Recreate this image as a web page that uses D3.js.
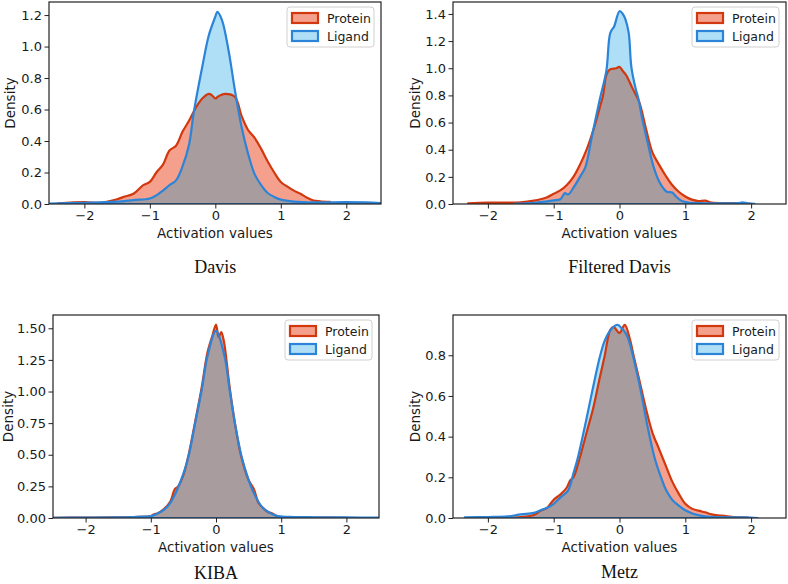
<!DOCTYPE html>
<html>
<head>
<meta charset="utf-8">
<script src="https://cdn.jsdelivr.net/npm/d3@7/dist/d3.min.js"></script>
<style>
  body { margin: 0; background: #fff; }
  svg { display: block; }
</style>
</head>
<body>
<svg id="chart" width="788" height="584"></svg>
<script>
// ---------------- DATA ----------------
const seriesNames = ["Protein", "Ligand"];
const panelTitles = ["Davis", "Filtered Davis", "KIBA", "Metz"];
const xTickValues = [-2, -1, 0, 1, 2];
const yTicksDavis = [0, 0.2, 0.4, 0.6, 0.8, 1.0, 1.2];
const yTicksFiltered = [0, 0.2, 0.4, 0.6, 0.8, 1.0, 1.2, 1.4];
const yTicksKiba = [0, 0.25, 0.5, 0.75, 1.0, 1.25, 1.5];
const yTicksMetz = [0, 0.2, 0.4, 0.6, 0.8];

// Davis
const davisProteinX = [-2.4,-2.0,-1.75,-1.5,-1.4,-1.25,-1.1,-1.0,-0.9,-0.8,-0.7,-0.6,-0.5,-0.4,-0.3,-0.2,-0.1,-0.05,0,0.05,0.15,0.3,0.4,0.5,0.6,0.7,0.8,0.9,1.0,1.1,1.2,1.3,1.4,1.5,1.6,1.75];
const davisProteinY = [0.004,0.012,0.008,0.03,0.045,0.065,0.12,0.14,0.2,0.25,0.34,0.37,0.46,0.53,0.61,0.67,0.70,0.69,0.67,0.685,0.70,0.68,0.56,0.47,0.42,0.35,0.27,0.2,0.14,0.11,0.085,0.065,0.04,0.022,0.017,0.013];
const davisLigandX = [-2.55,-2.0,-1.5,-1.25,-1.0,-0.9,-0.8,-0.7,-0.6,-0.5,-0.4,-0.33,-0.2,-0.1,0,0.03,0.1,0.2,0.3,0.4,0.5,0.6,0.7,0.8,0.9,1.0,1.2,1.5,2.0,2.3,2.55];
const davisLigandY = [0.003,0.008,0.015,0.025,0.035,0.055,0.085,0.12,0.15,0.24,0.38,0.58,0.87,1.07,1.19,1.22,1.17,0.98,0.72,0.49,0.32,0.19,0.12,0.07,0.045,0.028,0.015,0.01,0.012,0.01,0.005];

// Filtered Davis
const filtProteinX = [-2.3,-2.0,-1.7,-1.5,-1.3,-1.2,-1.1,-1.0,-0.9,-0.8,-0.7,-0.6,-0.5,-0.4,-0.3,-0.25,-0.2,-0.15,-0.05,0,0.05,0.1,0.2,0.3,0.4,0.5,0.6,0.7,0.8,0.9,1.0,1.1,1.2,1.3,1.4,1.7,2.0];
const filtProteinY = [0.004,0.01,0.01,0.013,0.025,0.035,0.05,0.075,0.1,0.14,0.2,0.29,0.4,0.54,0.71,0.8,0.95,0.99,1.0,1.01,0.98,0.95,0.85,0.75,0.56,0.38,0.29,0.21,0.14,0.09,0.055,0.032,0.022,0.025,0.01,0.006,0.002];
const filtLigandX = [-1.6,-1.3,-1.1,-1.0,-0.9,-0.83,-0.78,-0.7,-0.6,-0.52,-0.41,-0.3,-0.2,-0.14,-0.08,0,0.05,0.09,0.14,0.18,0.24,0.29,0.34,0.42,0.52,0.62,0.72,0.8,0.85,0.93,1.0,1.2,1.5,1.8,1.87,1.95,2.05];
const filtLigandY = [0.002,0.008,0.02,0.027,0.035,0.08,0.07,0.12,0.2,0.27,0.52,0.77,0.98,1.26,1.31,1.42,1.40,1.36,1.26,1.01,0.86,0.77,0.64,0.47,0.27,0.15,0.09,0.085,0.06,0.027,0.015,0.006,0.004,0.006,0.012,0.004,0.001];

// KIBA
const kibaProteinX = [-2.5,-2.0,-1.5,-1.2,-1.0,-0.95,-0.9,-0.8,-0.7,-0.63,-0.58,-0.5,-0.42,-0.32,-0.22,-0.13,-0.05,0,0.04,0.08,0.12,0.21,0.29,0.39,0.5,0.58,0.65,0.7,0.8,0.85,0.95,1.2,1.5,2.0];
const kibaProteinY = [0.001,0.003,0.005,0.009,0.015,0.03,0.035,0.07,0.13,0.23,0.25,0.34,0.5,0.76,1.03,1.31,1.45,1.53,1.43,1.47,1.40,1.03,0.75,0.48,0.3,0.23,0.12,0.09,0.045,0.04,0.012,0.006,0.004,0.002];
const kibaLigandX = [-2.55,-2.0,-1.5,-1.2,-1.0,-0.9,-0.8,-0.7,-0.6,-0.5,-0.42,-0.32,-0.22,-0.13,0,0.13,0.21,0.29,0.39,0.5,0.56,0.7,0.83,0.95,1.2,1.5,2.0,2.55];
const kibaLigandY = [0.002,0.003,0.006,0.01,0.015,0.035,0.065,0.12,0.22,0.35,0.49,0.75,1.01,1.28,1.48,1.28,1.01,0.75,0.49,0.3,0.22,0.09,0.04,0.015,0.008,0.006,0.005,0.002];

// Metz
const metzProteinX = [-1.9,-1.5,-1.3,-1.2,-1.1,-1.0,-0.9,-0.8,-0.75,-0.7,-0.6,-0.5,-0.4,-0.3,-0.23,-0.14,-0.09,0,0.08,0.16,0.22,0.3,0.4,0.5,0.6,0.7,0.8,0.9,1.0,1.1,1.2,1.3,1.4,1.5,1.6,1.7,1.95];
const metzProteinY = [0.002,0.005,0.015,0.035,0.05,0.09,0.115,0.15,0.185,0.2,0.3,0.42,0.54,0.69,0.79,0.925,0.94,0.91,0.95,0.876,0.79,0.68,0.54,0.42,0.34,0.26,0.18,0.12,0.07,0.046,0.036,0.028,0.018,0.013,0.01,0.006,0.002];
const metzLigandX = [-2.35,-2.0,-1.7,-1.5,-1.3,-1.2,-1.1,-1.0,-0.9,-0.78,-0.7,-0.63,-0.52,-0.41,-0.3,-0.22,-0.12,-0.03,0.04,0.09,0.14,0.21,0.32,0.42,0.53,0.62,0.71,0.8,0.93,1.0,1.13,1.3,1.5,1.9,2.1];
const metzLigandY = [0.003,0.005,0.008,0.018,0.025,0.038,0.05,0.07,0.1,0.136,0.22,0.3,0.46,0.63,0.79,0.875,0.93,0.95,0.93,0.91,0.875,0.79,0.63,0.46,0.3,0.21,0.136,0.09,0.054,0.038,0.02,0.008,0.004,0.003,0.0];

// ---------------- STYLE ----------------
const proteinFill = "#f5a08c";
const ligandFill = "#aedff7";
const overlapFill = "#a89c9f";
const proteinStroke = "#d2380e";
const ligandStroke = "#2b84d8";
const spineColor = "#222";
const tickFont = "'DejaVu Sans', sans-serif";
const titleFont = "'Liberation Serif', 'Times New Roman', serif";

const panels = [
  { title: panelTitles[0], left: 49, top: 2, width: 332, height: 202, xDom: [-2.54, 2.53], yMax: 1.283, yTicks: yTicksDavis, yFmt: ".1f",
    prot: [davisProteinX, davisProteinY], lig: [davisLigandX, davisLigandY], ylabX: 10, titleY: 273 },
  { title: panelTitles[1], left: 453, top: 2, width: 333, height: 202, xDom: [-2.53, 2.53], yMax: 1.488, yTicks: yTicksFiltered, yFmt: ".1f",
    prot: [filtProteinX, filtProteinY], lig: [filtLigandX, filtLigandY], ylabX: 415, titleY: 273 },
  { title: panelTitles[2], left: 53, top: 315, width: 326, height: 203, xDom: [-2.5, 2.5], yMax: 1.605, yTicks: yTicksKiba, yFmt: ".2f",
    prot: [kibaProteinX, kibaProteinY], lig: [kibaLigandX, kibaLigandY], ylabX: 8, titleY: 579 },
  { title: panelTitles[3], left: 453, top: 315, width: 333, height: 203, xDom: [-2.53, 2.53], yMax: 0.998, yTicks: yTicksMetz, yFmt: ".1f",
    prot: [metzProteinX, metzProteinY], lig: [metzLigandX, metzLigandY], ylabX: 415, titleY: 578 }
];

const svg = d3.select("#chart");
const defs = svg.append("defs");

panels.forEach((p, i) => {
  const x = d3.scaleLinear().domain(p.xDom).range([0, p.width]);
  const y = d3.scaleLinear().domain([0, p.yMax]).range([p.height, 0]);
  const g = svg.append("g").attr("transform", `translate(${p.left},${p.top})`);

  const toPts = (arr) => arr[0].map((xv, k) => [xv, arr[1][k]]);
  const protPts = toPts(p.prot);
  const ligPts = toPts(p.lig);

  const area = d3.area().x(d => x(d[0])).y0(y(0)).y1(d => y(d[1])).curve(d3.curveCatmullRom.alpha(0.5));

  defs.append("clipPath").attr("id", "plot" + i)
    .append("rect").attr("width", p.width).attr("height", p.height);
  defs.append("clipPath").attr("id", "prot" + i)
    .append("path").attr("d", area(protPts));

  const plot = g.append("g").attr("clip-path", `url(#plot${i})`);
  plot.append("path").attr("d", area(protPts)).attr("fill", proteinFill);
  plot.append("path").attr("d", area(ligPts)).attr("fill", ligandFill);
  plot.append("g").attr("clip-path", `url(#prot${i})`)
    .append("path").attr("d", area(ligPts)).attr("fill", overlapFill);
  plot.append("path").attr("d", area(protPts)).attr("fill", "none")
    .attr("stroke", proteinStroke).attr("stroke-width", 2.2).attr("stroke-linejoin", "round");
  plot.append("path").attr("d", area(ligPts)).attr("fill", "none")
    .attr("stroke", ligandStroke).attr("stroke-width", 2.2).attr("stroke-linejoin", "round");

  const xAxis = d3.axisBottom(x).tickValues(xTickValues).tickSize(4.5).tickPadding(2.5).tickFormat(d3.format("d"));
  const yAxis = d3.axisLeft(y).tickValues(p.yTicks).tickSize(4.5).tickPadding(2.5).tickFormat(d3.format(p.yFmt));
  const gx = g.append("g").attr("transform", `translate(0,${p.height})`).call(xAxis);
  const gy = g.append("g").call(yAxis);
  [gx, gy].forEach(a => {
    a.select(".domain").remove();
    a.selectAll(".tick line").attr("stroke", spineColor).attr("stroke-width", 1);
    a.selectAll(".tick text").attr("fill", "#1a1a1a").style("font-family", tickFont).style("font-size", "13px");
  });

  g.append("rect").attr("width", p.width).attr("height", p.height)
    .attr("fill", "none").attr("stroke", spineColor).attr("stroke-width", 1.2);

  g.append("text").attr("x", p.width / 2).attr("y", p.height + 34)
    .attr("text-anchor", "middle").style("font-family", tickFont).style("font-size", "13.5px")
    .attr("fill", "#1a1a1a").text("Activation values");
  svg.append("text").attr("transform", `translate(${p.ylabX + 5},${p.top + p.height / 2}) rotate(-90)`)
    .attr("text-anchor", "middle").style("font-family", tickFont).style("font-size", "13.5px")
    .attr("fill", "#1a1a1a").text("Density");
  svg.append("text").attr("x", p.left + x(0)).attr("y", p.titleY)
    .attr("text-anchor", "middle").style("font-family", titleFont).style("font-size", "18px")
    .attr("fill", "#111").text(p.title);

  const lw = 87, lh = 40;
  const lg = g.append("g").attr("transform", `translate(${p.width - 7 - lw},5)`);
  lg.append("rect").attr("width", lw).attr("height", lh).attr("rx", 3)
    .attr("fill", "#fff").attr("fill-opacity", 0.9).attr("stroke", "#d0d0d0").attr("stroke-width", 1);
  seriesNames.forEach((name, k) => {
    const row = lg.append("g").attr("transform", `translate(5,${6 + k * 18})`);
    row.append("rect").attr("width", 26).attr("height", 10)
      .attr("fill", k === 0 ? proteinFill : ligandFill)
      .attr("stroke", k === 0 ? proteinStroke : ligandStroke).attr("stroke-width", 2.2);
    row.append("text").attr("x", 35).attr("y", 10)
      .style("font-family", tickFont).style("font-size", "12.5px").attr("fill", "#1a1a1a").text(name);
  });
});
</script>
</body>
</html>
